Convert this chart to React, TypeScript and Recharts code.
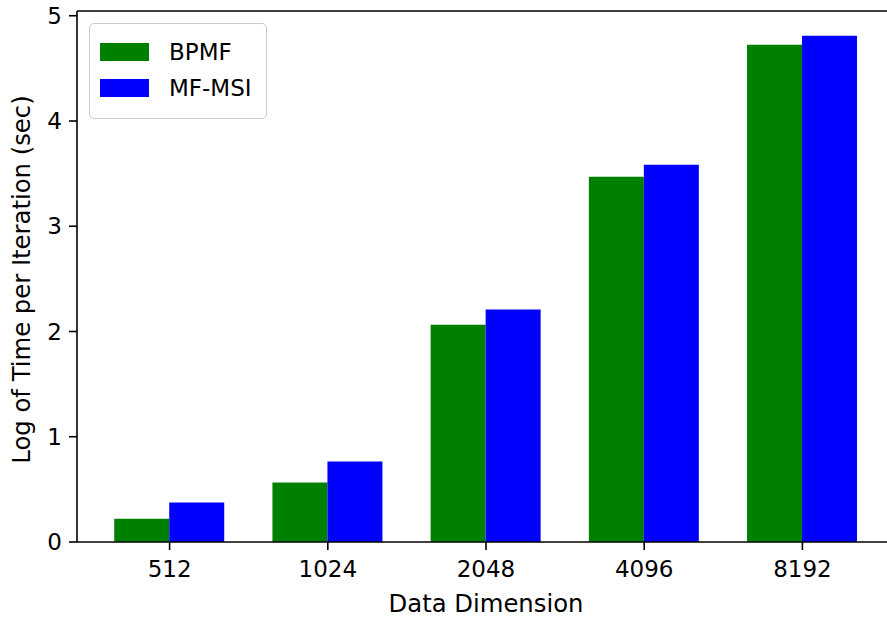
import { BarChart, Bar, XAxis, YAxis, Legend, Label, ReferenceLine } from 'recharts';

const dimensions = ['512', '1024', '2048', '4096', '8192'];
const bpmf = [0.22, 0.565, 2.065, 3.47, 4.725];
const mfMsi = [0.375, 0.765, 2.21, 3.585, 4.81];
const yTicks = [0, 1, 2, 3, 4, 5];
const Y_MAX = 5.045;

const series = [
  { key: 'bpmf', name: 'BPMF', color: '#008000' },
  { key: 'mfMsi', name: 'MF-MSI', color: '#0000ff' },
];

const data = dimensions.map((d, i) => ({ dim: d, bpmf: bpmf[i], mfMsi: mfMsi[i] }));

const FONT = '"DejaVu Sans", sans-serif';
const FS = 23;
const LABEL_FS = 24.3;

function BoxLegend() {
  return (
    <div
      style={{
        border: '1.5px solid #cccccc',
        borderRadius: 5,
        background: 'white',
        padding: '10px 14px 12px 10px',
        fontFamily: FONT,
        fontSize: FS,
        color: '#000',
      }}
    >
      {series.map((s) => (
        <div key={s.key} style={{ display: 'flex', alignItems: 'center', height: 36 }}>
          <span style={{ display: 'inline-block', width: 49, height: 18, background: s.color, marginRight: 20 }} />
          <span>{s.name}</span>
        </div>
      ))}
    </div>
  );
}

export default function App() {
  return (
    <div
      style={{
        position: 'absolute',
        left: 0,
        top: 0,
        width: 887,
        height: 620,
        overflow: 'hidden',
        background: 'white',
      }}
    >
      <BarChart
        width={900}
        height={620}
        data={data}
        margin={{ top: 11, right: 5, bottom: 0, left: 0 }}
        barCategoryGap="15%"
        barGap={0}
      >
        <XAxis
          dataKey="dim"
          height={78}
          padding={{ left: 13.5, right: 13.5 }}
          tickSize={8}
          tickMargin={11}
          stroke="#000"
          strokeWidth={1.6}
          tick={{ fill: '#000', fontSize: FS, fontFamily: FONT }}
        >
          <Label
            value="Data Dimension"
            position="insideBottom"
            offset={8}
            style={{ fill: '#000', fontSize: LABEL_FS, fontFamily: FONT }}
          />
        </XAxis>
        <YAxis
          width={77}
          domain={[0, Y_MAX]}
          ticks={yTicks}
          tickSize={8}
          tickMargin={7}
          stroke="#000"
          strokeWidth={1.6}
          allowDataOverflow
          tick={{ fill: '#000', fontSize: FS, fontFamily: FONT }}
        >
          <Label
            content={(p: any) => {
              const vb = p.viewBox || { x: 0, y: 11, height: 531 };
              const cx = vb.x + 21.5;
              const cy = vb.y + vb.height / 2 + 3;
              return (
                <text
                  x={cx}
                  y={cy}
                  transform={`rotate(-90 ${cx} ${cy})`}
                  textAnchor="middle"
                  dominantBaseline="central"
                  fill="#000"
                  fontSize={LABEL_FS}
                  fontFamily={FONT}
                >
                  Log of Time per Iteration (sec)
                </text>
              );
            }}
          />
        </YAxis>
        <ReferenceLine y={Y_MAX} stroke="#000" strokeWidth={1.6} />
        <Legend
          layout="vertical"
          align="center"
          verticalAlign="middle"
          content={<BoxLegend />}
          wrapperStyle={{ left: 89, top: 23, width: 'auto' }}
        />
        {series.map((s) => (
          <Bar key={s.key} dataKey={s.key} name={s.name} fill={s.color} isAnimationActive={false} />
        ))}
      </BarChart>
    </div>
  );
}
